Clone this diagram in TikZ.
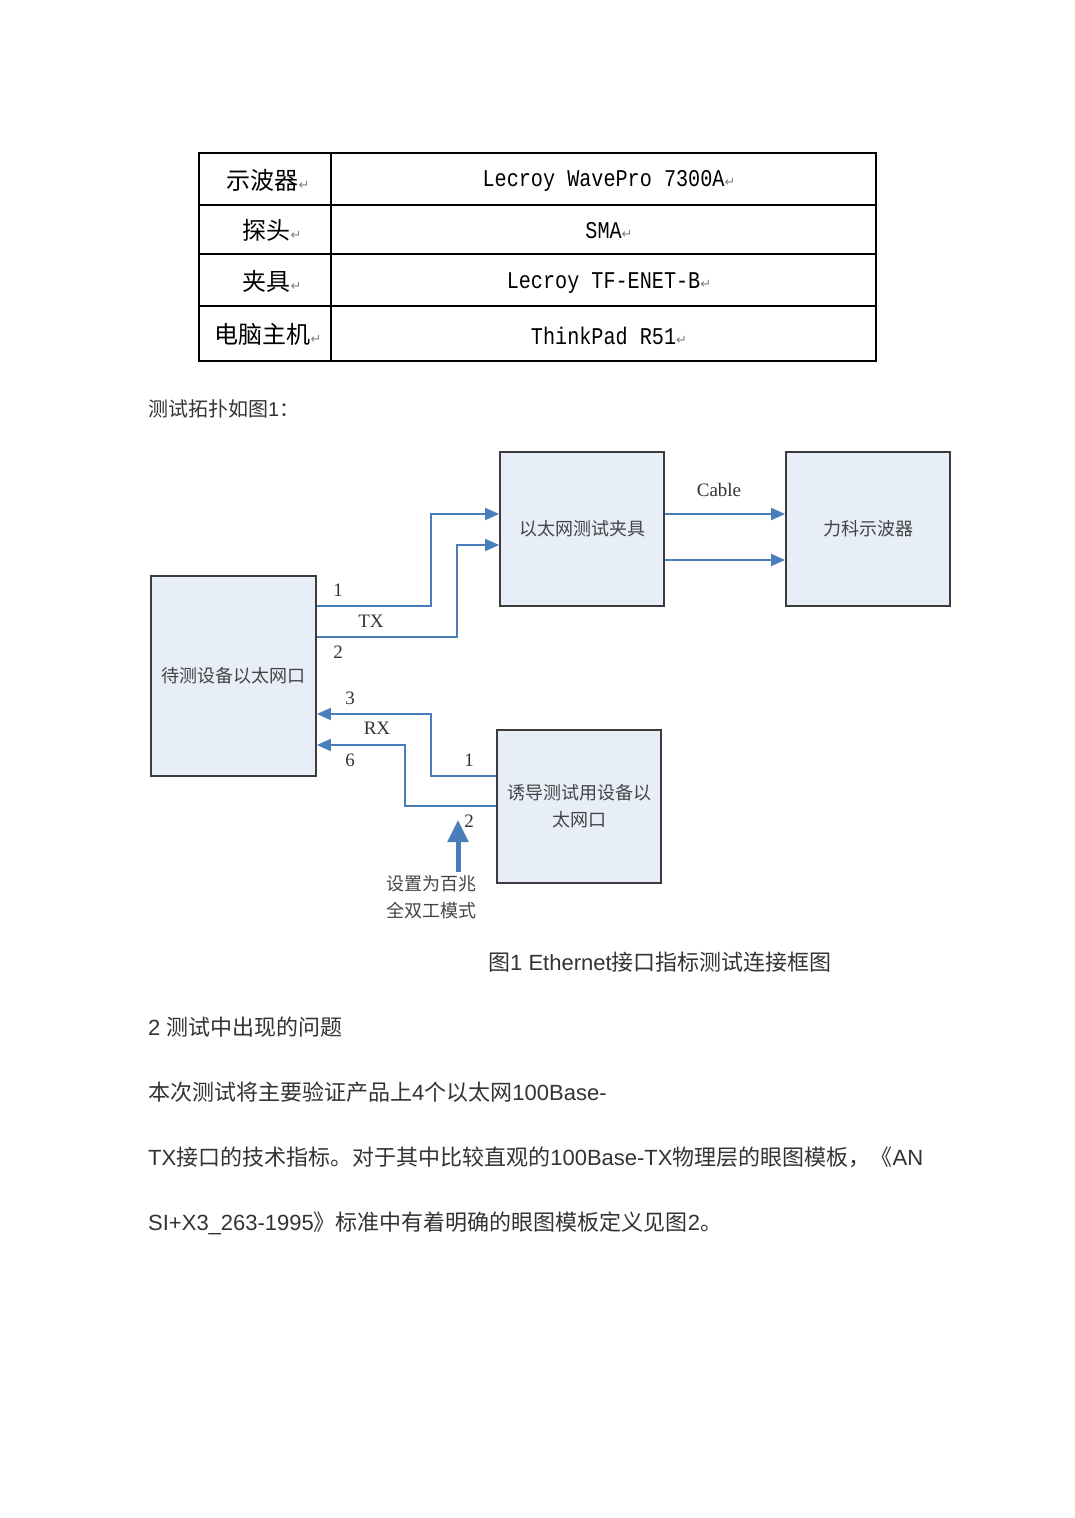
\documentclass[tikz,border=0pt]{standalone}
\usepackage{fontspec}
\setmainfont{Liberation Sans}
\newfontfamily\cjk{Noto Sans CJK SC}
\newfontfamily\serifl{Liberation Serif}
\newfontfamily\monol[FakeStretch=0.84]{Liberation Mono}
\newfontfamily\dvs{DejaVu Sans}
\usetikzlibrary{arrows.meta}
\definecolor{boxfill}{HTML}{E8EEF8}
\definecolor{boxline}{HTML}{3C3C3C}
\definecolor{wire}{HTML}{4A7EBB}
\definecolor{txt}{HTML}{333333}
\definecolor{boxtxt}{HTML}{444444}
\newcommand\zh[1]{{\cjk #1}}
\newcommand\rt{{\dvs\fontsize{13}{13}\selectfont\color{gray}↵}}
\begin{document}
\begin{tikzpicture}[x=1pt,y=-1pt,
  cellzh/.style={inner sep=0pt, font=\cjk\fontsize{24}{28}\selectfont, text=black},
  cellmono/.style={inner sep=0pt, font=\monol\fontsize{24}{28}\selectfont, text=black},
  box/.style={draw=boxline, line width=1.8pt, fill=boxfill, inner sep=0pt,
    font=\cjk\fontsize{18}{27}\selectfont, text=boxtxt, align=center},
  wire/.style={draw=wire, line width=1.8pt, -{Triangle[length=14pt,width=12pt]}},
  lbl/.style={inner sep=0pt, font=\serifl\fontsize{19}{22}\selectfont, text=txt},
  note/.style={inner sep=0pt, font=\cjk\fontsize{18}{27}\selectfont, text=boxtxt, align=center},
  body/.style={inner sep=0pt, anchor=base west, font=\fontsize{22}{26}\selectfont, text=txt}
]
\useasboundingbox (0,0) rectangle (1075,1518);
\fill[white] (0,0) rectangle (1075,1518);

% ---- table ----
\draw[line width=2pt] (199,153) rectangle (876,361);
\draw[line width=1.6pt] (331,153) -- (331,361);
\foreach \yy in {205,254,306} \draw[line width=1.6pt] (199,\yy) -- (876,\yy);

\node[cellzh] (c11) at (268,180) {示波器\rt};
\node[cellzh] (c21) at (272,230) {探头\rt};
\node[cellzh] (c31) at (272,281) {夹具\rt};
\node[cellzh] (c41) at (268,334) {电脑主机\rt};
\node[cellmono] (c12) at (609,181) {Lecroy WavePro 7300A\rt};
\node[cellmono] (c22) at (609,231) {SMA\rt};
\node[cellmono] (c32) at (609,283) {Lecroy TF-ENET-B\rt};
\node[cellmono] (c42) at (609,336) {ThinkPad R51\rt};

% ---- paragraph before figure ----
\node[body, font=\fontsize{20}{24}\selectfont] (intro) at (148,416) {\zh{测试拓扑如图}1\zh{：}};

% ---- diagram boxes ----
\node[box, minimum width=165pt, minimum height=200pt] (dut) at (233.5,676) {待测设备以太网口};
\node[box, minimum width=164pt, minimum height=154pt] (fix) at (582,529) {以太网测试夹具};
\node[box, minimum width=164pt, minimum height=154pt] (osc) at (868,529) {力科示波器};
\node[box, minimum width=164pt, minimum height=153pt] (ind) at (579,806.5) {诱导测试用设备以\\太网口};

% ---- TX wires ----
\draw[wire] (dut.east |- 0,606) -- (431,606) -- (431,514) -- (fix.west |- 0,514);
\draw[wire] (dut.east |- 0,637) -- (457,637) -- (457,545) -- (fix.west |- 0,545);
% ---- cable ----
\draw[wire] (fix.east |- 0,514) -- (osc.west |- 0,514);
\draw[wire] (fix.east |- 0,560) -- (osc.west |- 0,560);
% ---- RX wires ----
\draw[wire] (ind.west |- 0,776) -- (431,776) -- (431,714) -- (dut.east |- 0,714);
\draw[wire] (ind.west |- 0,806) -- (405,806) -- (405,745) -- (dut.east |- 0,745);

% ---- labels ----
\node[lbl] (l1) at (338,590) {1};
\node[lbl] (ltx) at (371,621) {TX};
\node[lbl] (l2) at (338,652) {2};
\node[lbl] (l3) at (350,698) {3};
\node[lbl] (lrx) at (377,728) {RX};
\node[lbl] (l6) at (350,760) {6};
\node[lbl] (r1) at (469,760) {1};
\node[lbl] (r2) at (469,821) {2};
\node[lbl] (cab) at (719,490) {Cable};

% ---- note with up arrow ----
\node[note] (nt) at (431,897) {设置为百兆\\全双工模式};
\coordinate (upb) at (458,872);
\coordinate (upt) at (458,820);
\draw[draw=wire, line width=5pt, -{Triangle[length=22pt,width=20pt]}] (upb) -- (upt);

% ---- caption and body ----
\node[body] (cap) at (488,970) {\zh{图}1 Ethernet\zh{接口指标测试连接框图}};
\node[body] (p1) at (148,1035) {2 \zh{测试中出现的问题}};
\node[body] (p2) at (148,1100) {\zh{本次测试将主要验证产品上}4\zh{个以太网}100Base-};
\node[body] (p3) at (148,1165) {TX\zh{接口的技术指标。对于其中比较直观的}100Base-TX\zh{物理层的眼图模板，《}AN};
\node[body] (p4) at (148,1230) {SI+X3\_263-1995\zh{》标准中有着明确的眼图模板定义见图}2\zh{。}};
\end{tikzpicture}
\end{document}
